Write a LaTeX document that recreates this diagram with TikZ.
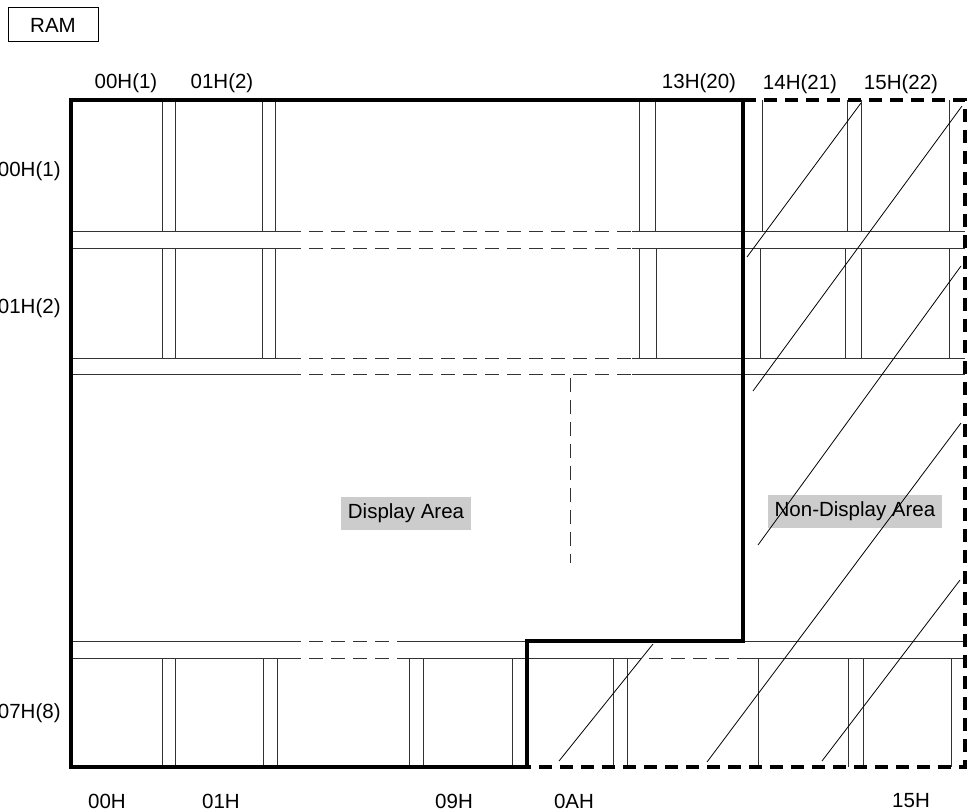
\documentclass[tikz,border=0pt]{standalone}
\usepackage{fontspec}
\setmainfont{Liberation Sans}
\usetikzlibrary{positioning}

\begin{document}
\begin{tikzpicture}[
        x=0.5pt, y=-0.5pt,
        every node/.style={font=\fontsize{10.25}{12}\selectfont, inner sep=0pt},
        thinline/.style = {draw=black!80, line width=0.5pt},
        dashline/.style = {thinline, dash pattern=on 7pt off 4pt},
        frame/.style = {line width=1.6pt},
        framedash/.style = {line width=1.6pt, dash pattern=on 6.5pt off 4pt},
        hatch/.style = {line width=0.4pt},
        area/.style = {fill=black!20, minimum height=16.5pt, inner xsep=3.5pt},
    ]
    \useasboundingbox (0,0) rectangle (967,812);
    % row separators
    \foreach \y in {232,249,358,374} {
        \draw[thinline] (71,\y) -- (287,\y);
        \draw[dashline] (287,\y) -- (632,\y);
        \draw[thinline] (632,\y) -- (965,\y);
    }
    \draw[thinline] (71,641) -- (287,641);
    \draw[dashline] (287,641) -- (400,641);
    \draw[thinline] (400,641) -- (965,641);
    \draw[thinline] (71,658) -- (287,658);
    \draw[dashline] (287,658) -- (407,658);
    \draw[thinline] (407,658) -- (627,658);
    \draw[dashline] (627,658) -- (743,658);
    \draw[thinline] (743,658) -- (965,658);
    % column separators
    \foreach \x in {162,175,262,275,639,655,762,847,861,949}
        \draw[thinline] (\x,100) -- (\x,232);
    \foreach \x in {162,175,262,275,639,656,760,845,861,949}
        \draw[thinline] (\x,249) -- (\x,358);
    \foreach \x in {162,175,263,277,409,423,512,613,627,758,848,863,951}
        \draw[thinline] (\x,658) -- (\x,767);
    \draw[dashline] (570,378) -- (570,563);
    % outlines
    \draw[frame] (743,100) -- (71,100) -- (71,767) -- (527,767) -- (527,641)
        -- (743,641) -- cycle;
    \draw[framedash] (743,100) -- (965,100) -- (965,767) -- (527,767);
    % labels
    \node[draw, line width=0.5pt, minimum width=45pt, minimum height=17pt]
        (ram) at (53,25) {RAM};
    \foreach \x/\t [count=\i] in {126/00H(1),222/01H(2),699/13H(20)}
        \node (col\i) at (\x,83) {\t};
    \foreach \x/\t [count=\i from 4] in {800/14H(21),901/15H(22)}
        \node (col\i) at (\x,84) {\t};
    \foreach \y/\t [count=\i] in {171/00H(1),308/01H(2),713/07H(8)}
        \node[anchor=east] (row\i) at (61,\y) {\t};
    \foreach \x/\t [count=\i] in {107/00H,221/01H,454/09H,574/0AH,911/15H}
        \node (adr\i) at (\x,801) {\t};
    \node[area] (disp) at (406,513) {Display Area};
    \node[area] (nodisp) at (855,511) {Non-Display Area};
    % hatching of the non-display area
    \draw[hatch] (747,257) -- (861,103);
    \draw[hatch] (753,391) -- (962,106);
    \draw[hatch] (758,545) -- (961,266);
    \draw[hatch] (707,762) -- (961,423);
    \draw[hatch] (822,761) -- (960,580);
    \draw[hatch] (559,761) -- (653,644);
\end{tikzpicture}
\end{document}
